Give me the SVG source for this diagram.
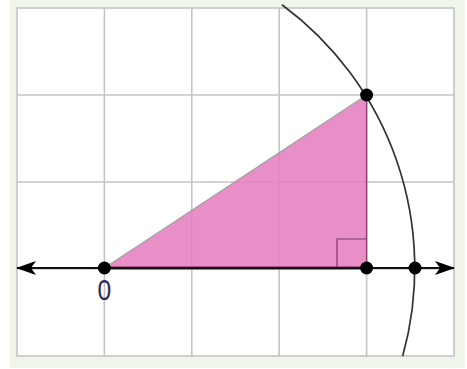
<svg xmlns="http://www.w3.org/2000/svg" width="467" height="369" viewBox="0 0 467 369">
<style>
.grid{stroke:#c4c4c4;stroke-width:1.6;fill:none}
.dot{fill:#000}
.axis{stroke:#111;stroke-width:1.8;fill:none}
</style>
<defs>
<marker id="arr" viewBox="0 0 20 16" refX="19" refY="8" markerWidth="20" markerHeight="16" markerUnits="userSpaceOnUse" orient="auto-start-reverse">
<path d="M0,1 L20,8 L0,15 L5,8 Z" fill="#000"/>
</marker>
</defs>
<rect x="0" y="0" width="467" height="369" fill="#ffffff"/>
<rect x="10" y="0" width="455" height="368" fill="#f0f5ec"/>
<rect x="17" y="8" width="437" height="348" fill="#ffffff"/>
<g id="grid" class="grid">
<rect x="17" y="8" width="437" height="348"/>
<line x1="104.4" y1="8" x2="104.4" y2="356"/>
<line x1="191.8" y1="8" x2="191.8" y2="356"/>
<line x1="279.2" y1="8" x2="279.2" y2="356"/>
<line x1="366.6" y1="8" x2="366.6" y2="356"/>
<line x1="17" y1="95" x2="454" y2="95"/>
<line x1="17" y1="182" x2="454" y2="182"/>
<line x1="17" y1="269" x2="454" y2="269"/>
</g>
<g id="triangle">
<polygon points="104.4,268 366.6,95 366.6,268" fill="#e580c0" fill-opacity="0.88" stroke="none"/>
<line x1="104.4" y1="268" x2="366.6" y2="95" stroke="#a0a0a0" stroke-width="1.2"/>
<line x1="366.6" y1="95" x2="366.6" y2="268" stroke="#8a4070" stroke-width="1.4"/>
<line x1="104.4" y1="268" x2="366.6" y2="268" stroke="#7a1f52" stroke-width="3"/>
<polyline points="337,268 337,239 366.6,239" fill="none" stroke="#7a3a62" stroke-width="1.2"/>
</g>
<g id="connectors">
<line class="axis" x1="17" y1="268" x2="454" y2="268" marker-start="url(#arr)" marker-end="url(#arr)"/>
<path d="M282,4.7 A327.5,327.5 0 0 1 402.7,356" fill="none" stroke="#333" stroke-width="1.7"/>
</g>
<g id="points">
<circle class="dot" cx="104.4" cy="268" r="6.5"/>
<circle class="dot" cx="366.6" cy="95" r="6.5"/>
<circle class="dot" cx="366.6" cy="268" r="6.5"/>
<circle class="dot" cx="415" cy="268" r="6.5"/>
</g>
<g id="label">
<text transform="translate(104.4,300) scale(0.85,1)" x="0" y="0" font-family="Liberation Sans, Arial, sans-serif" font-size="29" fill="#2c2c58" text-anchor="middle">0</text>
</g>
</svg>
